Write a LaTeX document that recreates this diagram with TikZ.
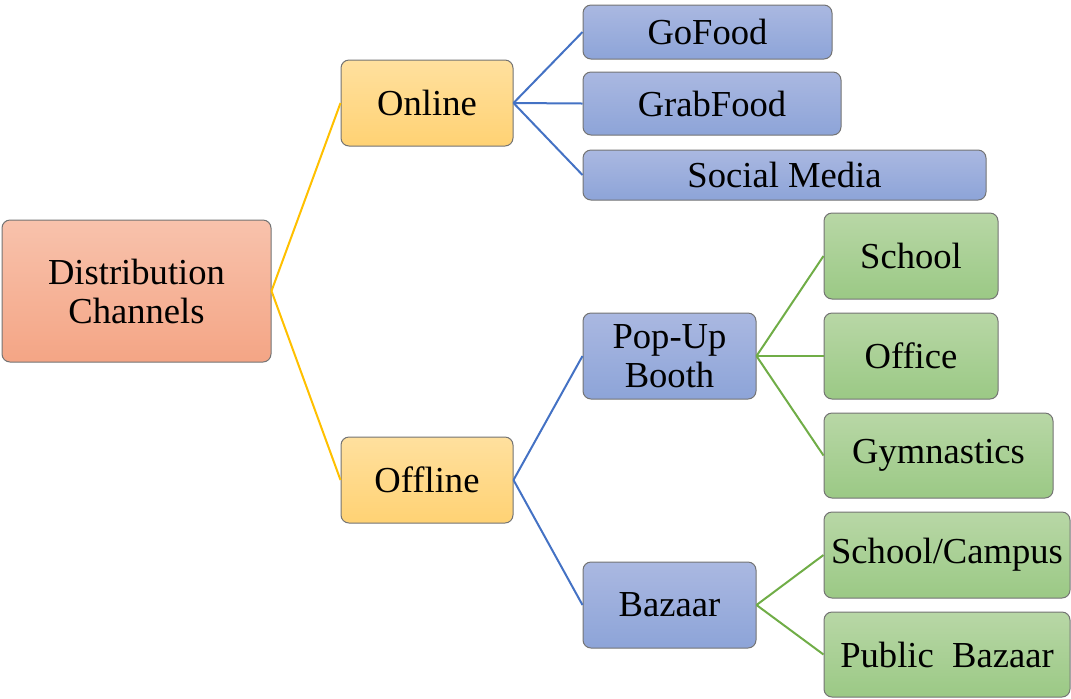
\documentclass[tikz,border=0pt]{standalone}
\usepackage{fontspec}
\setmainfont{Liberation Serif}
\usepackage{xcolor}
\usepackage{tikz}
\definecolor{rootTop}{HTML}{F8C2AC}
\definecolor{rootBot}{HTML}{F4A585}
\definecolor{midTop}{HTML}{FFE09E}
\definecolor{midBot}{HTML}{FFD274}
\definecolor{blueTop}{HTML}{AAB8E1}
\definecolor{blueBot}{HTML}{8DA4D8}
\definecolor{greenTop}{HTML}{B8D7A6}
\definecolor{greenBot}{HTML}{9BC985}
\definecolor{lineYellow}{HTML}{FFC000}
\definecolor{lineBlue}{HTML}{4472C4}
\definecolor{lineGreen}{HTML}{70AD47}

\begin{document}
\begin{tikzpicture}[x=0.5pt, y=-0.5pt,
        every node/.style={font=\fontsize{18.3pt}{19.5pt}\selectfont},
        box/.style={draw=black!55, line width=0.5pt, rounded corners=4pt,
                    align=center, inner sep=0pt},
        rootbox/.style={box, top color=rootTop, bottom color=rootBot},
        midbox/.style={box, top color=midTop, bottom color=midBot},
        bluebox/.style={box, top color=blueTop, bottom color=blueBot},
        greenbox/.style={box, top color=greenTop, bottom color=greenBot},
        link/.style={line width=1pt}]
      % Page frame in pixel units (1px = 0.5pt, y grows downwards)
      \useasboundingbox (0,0) rectangle (1071,698);

      % Root
      \node[rootbox, minimum width=134.5pt, minimum height=71pt]
        (root) at (136.5,291) {Distribution\\Channels};

      % Channel types
      \node[midbox, minimum width=86pt, minimum height=43pt]
        (online) at (427,103) {Online};
      \node[midbox, minimum width=86pt, minimum height=43pt]
        (offline) at (427,480) {Offline};

      % Online platforms
      \node[bluebox, minimum width=124.5pt, minimum height=27pt]
        (gofood) at (707.5,32) {GoFood};
      \node[bluebox, minimum width=129pt, minimum height=31.5pt]
        (grabfood) at (712,103.5) {GrabFood};
      \node[bluebox, minimum width=201.5pt, minimum height=25pt]
        (social) at (784.5,175) {Social Media};

      % Offline outlets
      \node[bluebox, minimum width=86.5pt, minimum height=43pt]
        (popup) at (669.5,356) {Pop-Up\\Booth};
      \node[bluebox, minimum width=86.5pt, minimum height=43pt]
        (bazaar) at (669.5,605) {Bazaar};

      % Pop-up booth locations
      \node[greenbox, minimum width=87pt, minimum height=43pt]
        (school) at (911,256) {School};
      \node[greenbox, minimum width=87pt, minimum height=43pt]
        (office) at (911,356) {Office};
      \node[greenbox, minimum width=114.5pt, minimum height=42.5pt]
        (gym) at (938.5,455.5) {Gymnastics};

      % Bazaar locations
      \node[greenbox, minimum width=123pt, minimum height=43pt]
        (campus) at (947,555) {School/Campus};
      \node[greenbox, minimum width=123pt, minimum height=42.5pt]
        (public) at (947,654.5) {Public\ \ Bazaar};

      % Connectors
      \foreach \child in {online, offline} {
        \draw[link, lineYellow] (root.east) -- (\child.west);
      }
      \foreach \child in {gofood, grabfood, social} {
        \draw[link, lineBlue] (online.east) -- (\child.west);
      }
      \foreach \child in {popup, bazaar} {
        \draw[link, lineBlue] (offline.east) -- (\child.west);
      }
      \foreach \child in {school, office, gym} {
        \draw[link, lineGreen] (popup.east) -- (\child.west);
      }
      \foreach \child in {campus, public} {
        \draw[link, lineGreen] (bazaar.east) -- (\child.west);
      }

    \end{tikzpicture}
\end{document}
